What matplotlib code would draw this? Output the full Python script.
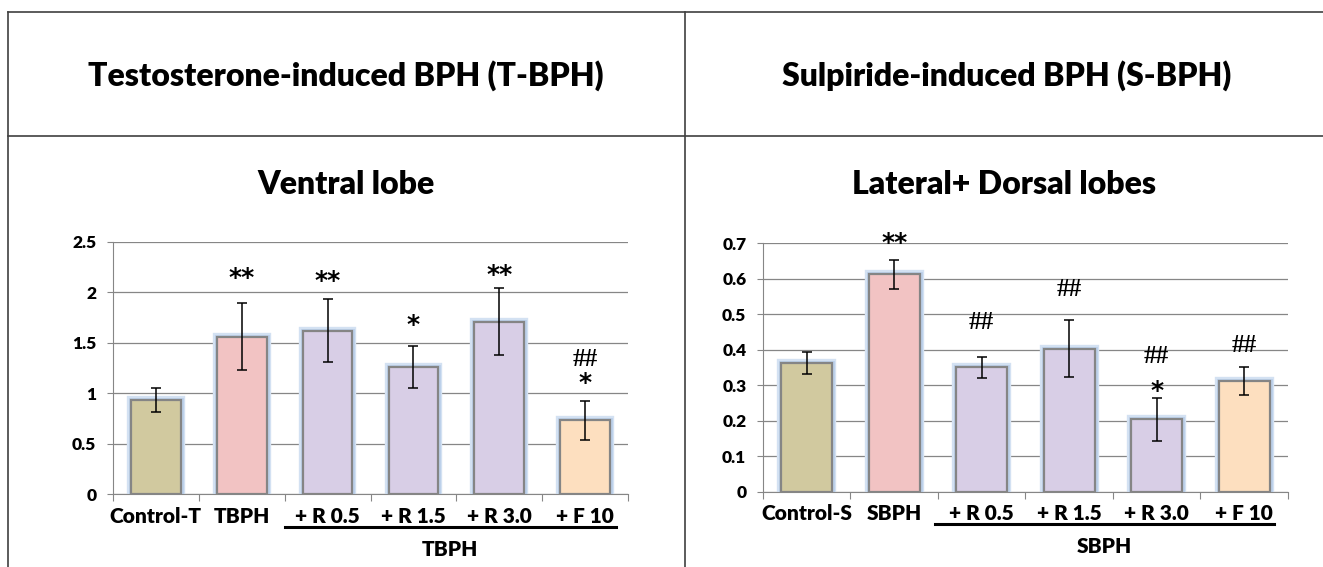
import matplotlib
matplotlib.use("Agg")
import matplotlib.pyplot as plt
from matplotlib.lines import Line2D
import matplotlib.transforms as mtransforms

plt.rcParams['font.family'] = ['Lato', 'DejaVu Sans']

# ventral lobe (T-BPH)
t_labels = ['Control-T', 'TBPH', '+ R 0.5', '+ R 1.5', '+ R 3.0', '+ F 10']
t_values = [0.935, 1.56, 1.62, 1.26, 1.71, 0.73]
t_errors = [0.12, 0.33, 0.31, 0.21, 0.33, 0.19]
t_stars = ['', '**', '**', '*', '**', '*']
t_star_y = [0, 2.17, 2.14, 1.70, 2.20, 1.13]
t_hash = ['', '', '', '', '', '##']
t_hash_y = [0, 0, 0, 0, 0, 1.35]

# lateral + dorsal lobes (S-BPH)
s_labels = ['Control-S', 'SBPH', '+ R 0.5', '+ R 1.5', '+ R 3.0', '+ F 10']
s_values = [0.363, 0.612, 0.351, 0.403, 0.204, 0.312]
s_errors = [0.03, 0.04, 0.03, 0.08, 0.06, 0.04]
s_stars = ['', '**', '', '', '*', '']
s_star_y = [0, 0.709, 0, 0, 0.292, 0]
s_hash = ['', '', '##', '##', '##', '##']
s_hash_y = [0, 0, 0.482, 0.575, 0.385, 0.417]

bar_colors = ['#D1C99F', '#F2C3C3', '#D8CEE6', '#D8CEE6', '#D8CEE6', '#FDDFBF']

fig = plt.figure(figsize=(13.23, 5.67), dpi=100)

# table borders
def fline(x0, y0, x1, y1):
    fig.add_artist(Line2D([x0 / 1323, x1 / 1323], [1 - y0 / 567, 1 - y1 / 567],
                          color='#404040', lw=1.2))

fline(8, 12, 1323, 12)
fline(8, 136, 1323, 136)
fline(8, 12, 8, 567)
fline(685, 12, 685, 567)

title_kw = dict(ha='center', va='center', fontsize=23, fontweight='heavy')
fig.text(346 / 1323, 1 - 76 / 567, 'Testosterone-induced BPH (T-BPH)', **title_kw)
fig.text(1007 / 1323, 1 - 76 / 567, 'Sulpiride-induced BPH (S-BPH)', **title_kw)
fig.text(346 / 1323, 1 - 184 / 567, 'Ventral lobe', **title_kw)
fig.text(1004 / 1323, 1 - 184 / 567, 'Lateral+ Dorsal lobes', **title_kw)


def draw_panel(ax, labels, values, errors, stars, star_y, hashes, hash_y,
               ymax, ystep, group, line_x):
    x = list(range(len(labels)))
    ax.set_xlim(-0.5, len(labels) - 0.5)
    ax.set_ylim(0, ymax)
    # soft blue glow behind bars
    ax.bar(x, values, width=0.58, color='none', edgecolor='#D3E1F2', linewidth=6, zorder=2)
    ax.bar(x, values, width=0.58, color='none', edgecolor='#BCD0EA', linewidth=3.5, zorder=2)
    ax.bar(x, values, width=0.58, color=bar_colors, edgecolor='#858585', linewidth=1.6, zorder=3)
    ax.errorbar(x, values, yerr=errors, fmt='none', ecolor='black', elinewidth=1.1,
                capsize=3.5, capthick=1.1, zorder=4)
    # glyph centres given in data units; shift baseline down so glyph centre lands there
    star_tr = mtransforms.offset_copy(ax.transData, fig=fig, y=-7, units='points')
    hash_tr = mtransforms.offset_copy(ax.transData, fig=fig, y=-6, units='points')
    for xi, s, sy, h, hy in zip(x, stars, star_y, hashes, hash_y):
        if s:
            ax.text(xi, sy, s, transform=star_tr, ha='center', va='baseline', fontsize=18,
                    fontweight='bold', family=['DejaVu Sans'])
        if h:
            ax.text(xi, hy, h, transform=hash_tr, ha='center', va='baseline', fontsize=18,
                    fontweight='bold', family=['Liberation Serif'])
    ticks = [i * ystep for i in range(int(round(ymax / ystep)) + 1)]
    ax.set_yticks(ticks)
    ax.set_yticklabels([('%g' % t) for t in ticks], fontsize=12.5, fontweight='heavy')
    ax.set_xticks([i - 0.5 for i in range(len(labels) + 1)])
    ax.set_xticklabels([])
    ax.set_xticks(x, minor=True)
    ax.set_xticklabels(labels, minor=True, fontsize=15, fontweight='heavy')
    ax.tick_params(axis='x', which='minor', length=0, pad=9)
    ax.tick_params(axis='x', which='major', length=5, color='#868686', direction='out')
    ax.tick_params(axis='y', length=4, color='#868686', pad=8)
    ax.grid(axis='y', color='#868686', lw=0.9, zorder=0)
    ax.set_axisbelow(True)
    for side in ['top', 'right']:
        ax.spines[side].set_visible(False)
    for side in ['left', 'bottom']:
        ax.spines[side].set_color('#868686')
    trans = mtransforms.blended_transform_factory(ax.transData, ax.transAxes)
    ax.add_line(Line2D(line_x, [-0.13, -0.13], transform=trans, color='black', lw=2.2,
                       clip_on=False))
    ax.text((line_x[0] + line_x[1]) / 2, -0.22, group, transform=trans, ha='center',
            va='center', fontsize=15, fontweight='heavy')


ax1 = fig.add_axes([0.0854, 0.1287, 0.3893, 0.4445])
draw_panel(ax1, t_labels, t_values, t_errors, t_stars, t_star_y, t_hash, t_hash_y,
           2.5, 0.5, 'TBPH', [1.5, 5.36])

ax2 = fig.add_axes([0.5767, 0.1323, 0.3968, 0.4390])
draw_panel(ax2, s_labels, s_values, s_errors, s_stars, s_star_y, s_hash, s_hash_y,
           0.7, 0.1, 'SBPH', [1.47, 5.34])

fig.savefig('out.png', dpi=100)
